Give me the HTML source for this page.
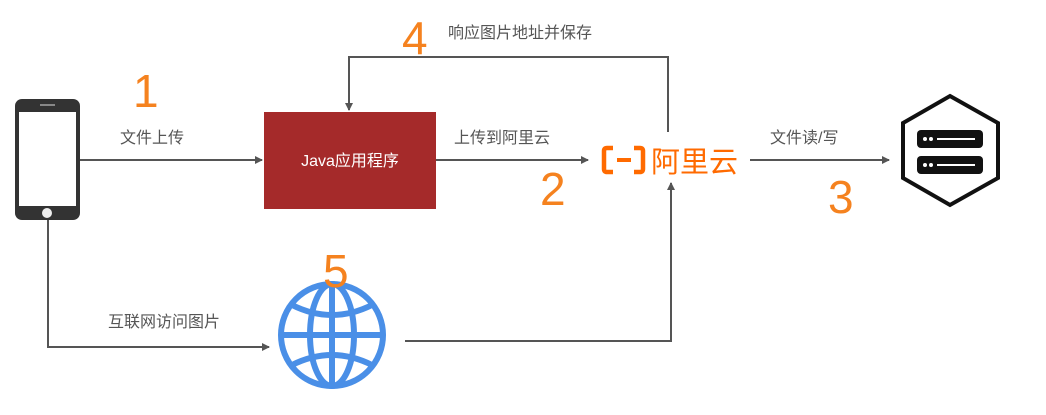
<!DOCTYPE html>
<html><head><meta charset="utf-8"><style>
body{margin:0;background:#fff;width:1046px;height:415px;overflow:hidden}
svg{display:block}
text{font-family:"Liberation Sans","Noto Sans CJK SC",sans-serif}
.l{fill:#555;font-size:16px}
.n{fill:#f5821f;font-size:46px}
</style></head><body>
<svg width="1046" height="415" viewBox="0 0 1046 415">
<defs><marker id="a" markerWidth="8" markerHeight="8" refX="7" refY="4" orient="auto" markerUnits="userSpaceOnUse"><path d="M0,0 L8,4 L0,8z" fill="#555"/></marker></defs>
<g stroke="#555" stroke-width="2" fill="none">
<line x1="80" y1="160" x2="262" y2="160" marker-end="url(#a)"/>
<line x1="436" y1="160" x2="588" y2="160" marker-end="url(#a)"/>
<line x1="750" y1="160" x2="889" y2="160" marker-end="url(#a)"/>
<polyline points="668,132 668,57 349,57 349,110" marker-end="url(#a)"/>
<polyline points="48,219 48,347 269,347" marker-end="url(#a)"/>
<polyline points="405,341 671,341 671,183" marker-end="url(#a)"/>
</g>
<!-- phone -->
<rect x="15" y="99" width="65" height="121" rx="7" fill="#333"/>
<rect x="19" y="112" width="57" height="94" fill="#fff"/>
<rect x="40" y="104" width="15" height="2" fill="#888"/>
<circle cx="47" cy="213" r="5" fill="#eee"/>
<!-- box -->
<rect x="264" y="112" width="172" height="97" fill="#a52a2a"/>
<text x="350" y="166" text-anchor="middle" fill="#fff" font-size="16">Java应用程序</text>
<text x="120" y="143" class="l">文件上传</text>
<text x="454" y="143" class="l">上传到阿里云</text>
<text x="770" y="143" class="l">文件读/写</text>
<text x="448" y="38" class="l">响应图片地址并保存</text>
<text x="108" y="327" class="l">互联网访问图片</text>
<text x="133" y="107" class="n">1</text>
<text x="540" y="205" class="n">2</text>
<text x="828" y="213" class="n">3</text>
<text x="402" y="54" class="n">4</text>
<!-- aliyun -->
<g fill="none" stroke="#ff6a00" stroke-width="4.5" stroke-linejoin="round">
<path d="M613,148 h-6 q-3,0 -3,3 v18 q0,3 3,3 h6"/><path d="M634,148 h6 q3,0 3,3 v18 q0,3 -3,3 h-6"/>
</g>
<rect x="617" y="158" width="14" height="4" fill="#ff6a00"/>
<text x="651" y="172" fill="#ff6a00" font-size="29">阿里云</text>
<!-- hexagon -->
<polygon points="950,96 998,123 998,178 950,205 903,178 903,123" fill="#fff" stroke="#111" stroke-width="4"/>
<rect x="917" y="130" width="66" height="18" rx="4" fill="#111"/>
<rect x="917" y="156" width="66" height="18" rx="4" fill="#111"/>
<g fill="#fff"><circle cx="925" cy="139" r="2"/><circle cx="931" cy="139" r="2"/><rect x="937" y="138" width="38" height="2"/>
<circle cx="925" cy="165" r="2"/><circle cx="931" cy="165" r="2"/><rect x="937" y="164" width="38" height="2"/></g>
<!-- globe -->
<g fill="none" stroke="#4a8fe7" stroke-width="6">
<circle cx="332" cy="335" r="51"/>
<ellipse cx="332" cy="335" rx="22" ry="51"/>
<line x1="332" y1="284" x2="332" y2="386"/>
<line x1="281" y1="335" x2="383" y2="335"/>
<path d="M292,305 Q332,325 372,305"/>
<path d="M292,365 Q332,345 372,365"/>
</g>
<text x="323" y="287" class="n">5</text>
</svg>
</body></html>
